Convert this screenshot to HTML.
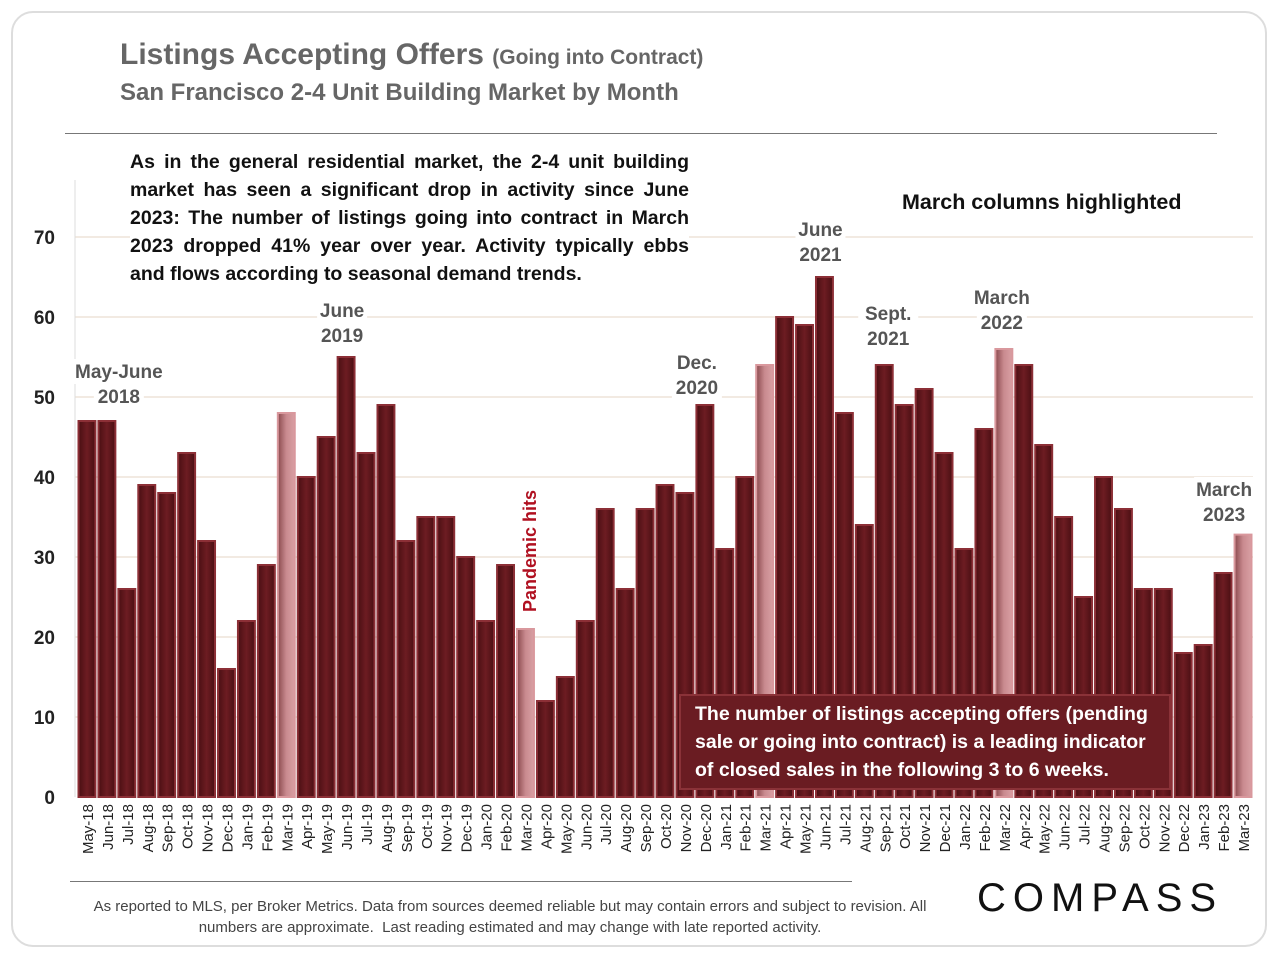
<!DOCTYPE html>
<html><head><meta charset="utf-8"><style>
body{margin:0;background:#fff;font-family:"Liberation Sans",sans-serif;}
#wrap{position:relative;width:1280px;height:960px;overflow:hidden;}
.frame{position:absolute;left:11px;top:11px;width:1256px;height:936px;border:2px solid #ddd;border-radius:22px;box-sizing:border-box;}
</style></head><body>
<div id="wrap">
<div class="frame"></div>
<div style="position:absolute;left:120px;top:38px;font-size:30px;font-weight:bold;color:#666;">Listings Accepting Offers <span style="font-size:21px">(Going into Contract)</span></div>
<div style="position:absolute;left:120px;top:79px;font-size:24px;font-weight:bold;color:#666;">San Francisco 2-4 Unit Building Market by Month</div>
<div style="position:absolute;left:65px;top:133px;width:1152px;height:1px;background:#777;"></div>
<svg id="chart" width="1280" height="960" style="position:absolute;left:0;top:0"></svg>
<div style="position:absolute;left:130px;top:148px;width:559px;font-size:19.5px;font-weight:bold;line-height:28px;text-align:justify;color:#111;background:#fff;">As in the general residential market, the 2-4 unit building market has seen a significant drop in activity since June 2023: The number of listings going into contract in March 2023 dropped 41% year over year. Activity typically ebbs and flows according to seasonal demand trends.</div>
<div style="position:absolute;left:902px;top:190px;font-size:21.5px;font-weight:bold;color:#111;">March columns highlighted</div>
<div style="position:absolute;left:679px;top:694px;width:492px;height:96px;background:#6a1c22;border:2px solid #8a3238;box-sizing:border-box;color:#fff;font-size:19.5px;font-weight:bold;line-height:28px;padding:4px 0 0 14px;">The number of listings accepting offers (pending sale or going into contract) is a leading indicator of closed sales in the following 3 to 6 weeks.</div>
<div style="position:absolute;left:70px;top:881px;width:782px;height:1px;background:#777;"></div>
<div style="position:absolute;left:85px;top:896px;width:850px;text-align:center;font-size:15px;color:#444;line-height:21px;">As reported to MLS, per Broker Metrics. Data from sources deemed reliable but may contain errors and subject to revision. All numbers are approximate.&nbsp; Last reading estimated and may change with late reported activity.</div>
<div style="position:absolute;left:977px;top:876px;font-size:40px;letter-spacing:7px;color:#111;">COMPASS</div>
</div>
<script>
const categories=["May-18","Jun-18","Jul-18","Aug-18","Sep-18","Oct-18","Nov-18","Dec-18","Jan-19","Feb-19","Mar-19","Apr-19","May-19","Jun-19","Jul-19","Aug-19","Sep-19","Oct-19","Nov-19","Dec-19","Jan-20","Feb-20","Mar-20","Apr-20","May-20","Jun-20","Jul-20","Aug-20","Sep-20","Oct-20","Nov-20","Dec-20","Jan-21","Feb-21","Mar-21","Apr-21","May-21","Jun-21","Jul-21","Aug-21","Sep-21","Oct-21","Nov-21","Dec-21","Jan-22","Feb-22","Mar-22","Apr-22","May-22","Jun-22","Jul-22","Aug-22","Sep-22","Oct-22","Nov-22","Dec-22","Jan-23","Feb-23","Mar-23"];
const values=[47,47,26,39,38,43,32,16,22,29,48,40,45,55,43,49,32,35,35,30,22,29,21,12,15,22,36,26,36,39,38,49,31,40,54,60,59,65,48,34,54,49,51,43,31,46,56,54,44,35,25,40,36,26,26,18,19,28,32.8];
const yTicks=[0,10,20,30,40,50,60,70];
const callouts=[["May-June","2018",1.6,378],["June","2019",12.8,317],["Dec.","2020",30.6,369],["June","2021",36.8,236],["Sept.","2021",40.2,320],["March","2022",45.9,304],["March","2023",57.05,496]];
const NS="http://www.w3.org/2000/svg",svg=document.getElementById('chart');
const x0=77,x1=1253,step=(x1-x0)/categories.length,y0=797;
const y=v=>y0-v*8, x=i=>x0+i*step;
function el(t,a){const e=document.createElementNS(NS,t);for(const k in a)e.setAttribute(k,a[k]);svg.appendChild(e);return e;}
const defs=el('defs',{});
defs.innerHTML='<linearGradient id="gd" x1="0" x2="1"><stop offset="0" stop-color="#4a0f13"/><stop offset="0.5" stop-color="#6d1c22"/><stop offset="1" stop-color="#4a0f13"/></linearGradient><linearGradient id="gh" x1="0" x2="1"><stop offset="0" stop-color="#8a4a4e"/><stop offset="0.5" stop-color="#c98a8f"/><stop offset="1" stop-color="#d9a0a4"/></linearGradient>';
yTicks.forEach(t=>{
 if(t>0){const g=el('line',{x1:75,x2:1253,y1:y(t),y2:y(t),stroke:'#eee3d8','stroke-width':1.5});
 }
 const tx=el('text',{x:55,y:y(t)+7,'text-anchor':'end','font-size':19,'font-weight':'bold',fill:'#222','font-family':'Liberation Sans'});
 tx.textContent=t;
 
 
});
const ax=el('line',{x1:75,x2:75,y1:180,y2:797,stroke:'#ddd'});

values.forEach((v,i)=>{
 const hi=categories[i].startsWith('Mar');
 const r=el('rect',{x:x(i)+1.5,y:y(v),width:step-3,height:v*8,fill:hi?'url(#gh)':'url(#gd)',stroke:hi?'#d9989d':'#8c2f36','stroke-width':2});
 
 
 const cx=x(i)+step/2+6;
 const t=el('text',{x:0,y:0,transform:`translate(${cx},804) rotate(-90)`,'text-anchor':'end','font-size':15,fill:'#222','font-family':'Liberation Sans'});
 t.textContent=categories[i];
 
 
});
callouts.forEach(c=>{
 const cx=x(c[2])+step/2;
 [c[0],c[1]].forEach((s,k)=>{
  const w=s.length*10+10;
  const bg=el('rect',{x:cx-w/2,y:c[3]-19+k*25,width:w,height:25,fill:'#fff'});
  
  const t=el('text',{x:cx,y:c[3]+k*25,'text-anchor':'middle','font-size':19,'font-weight':'bold',fill:'#555','font-family':'Liberation Sans'});
  t.textContent=s;
  
  
 });
});
const ph=el('text',{x:0,y:0,transform:'translate(536,612) rotate(-90)','font-size':18,'font-weight':'bold',fill:'#b01020','font-family':'Liberation Sans'});
ph.textContent='Pandemic hits';


</script>
</body></html>
